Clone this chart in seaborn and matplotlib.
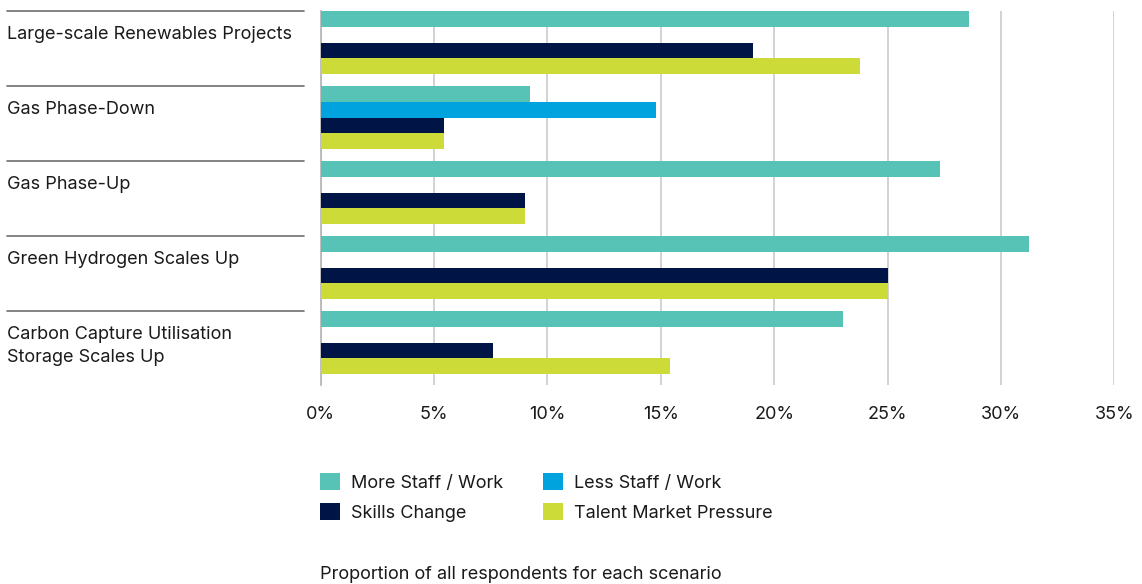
import matplotlib
matplotlib.use("Agg")
import matplotlib.pyplot as plt
from matplotlib.patches import Patch
from matplotlib.lines import Line2D
import pandas as pd
import seaborn as sns

scenarios = [
    "Large-scale Renewables Projects",
    "Gas Phase-Down",
    "Gas Phase-Up",
    "Green Hydrogen Scales Up",
    "Carbon Capture Utilisation\nStorage Scales Up",
]
impacts = ["More Staff / Work", "Less Staff / Work", "Skills Change", "Talent Market Pressure"]
more_staff = [28.6, 9.25, 27.3, 31.25, 23.05]
less_staff = [0.0, 14.8, 0.0, 0.0, 0.0]
skills_change = [19.05, 5.45, 9.0, 25.0, 7.6]
talent_pressure = [23.8, 5.45, 9.0, 25.0, 15.4]
colors = ["#57C3B6", "#00A3DE", "#011446", "#CCDB37"]
x_ticks = [0, 5, 10, 15, 20, 25, 30, 35]
x_tick_labels = [f"{t}%" for t in x_ticks]

sns.set_theme(style="white")
plt.rcParams["font.family"] = ["Inter", "DejaVu Sans"]
plt.rcParams["text.color"] = "#1a1a1a"

series = dict(zip(impacts, [more_staff, less_staff, skills_change, talent_pressure]))
df = pd.DataFrame(
    [(s, imp, v) for imp, vals in series.items() for s, v in zip(scenarios, vals)],
    columns=["scenario", "impact", "value"],
)

W, H = 1142, 584
fig = plt.figure(figsize=(W / 100, H / 100), dpi=100)
ax = fig.add_axes([320.7 / W, 1 - 385.4 / H, 793.6 / W, 374.4 / H])

sns.barplot(
    data=df, x="value", y="scenario", hue="impact", order=scenarios,
    hue_order=impacts, palette=colors, width=0.83, saturation=1,
    orient="h", legend=False, linewidth=0, errorbar=None, ax=ax, zorder=3,
)

ax.set_xlim(0, 35)
ax.set_ylim(4.572, -0.42)
ax.set_xticks(x_ticks)
ax.set_xticklabels(x_tick_labels, fontsize=13)
ax.tick_params(axis="x", length=0, pad=15, colors="#1a1a1a")
ax.set_yticks([])
ax.set_xlabel("")
ax.set_ylabel("")
for sp in ["top", "right", "bottom"]:
    ax.spines[sp].set_visible(False)
ax.spines["left"].set_color("#b3b3b3")
ax.spines["left"].set_linewidth(1.2)
ax.grid(axis="x", color="#cfcfcf", linewidth=1.3, zorder=0)
ax.set_axisbelow(True)

# scenario labels with separator rules to the left of the bars
ytrans = ax.get_yaxis_transform()
for i, name in enumerate(scenarios):
    top = i - 0.415
    ax.add_line(Line2D([-0.3953, -0.021], [top, top], transform=ytrans,
                       color="#6e6e6e", linewidth=1.2, clip_on=False))
    ax.text(-0.3953, top + 0.19, name, transform=ytrans, ha="left", va="top",
            fontsize=13, linespacing=1.5, clip_on=False)

handles = [Patch(facecolor=c, edgecolor="none") for c in colors]
order = [0, 2, 1, 3]
fig.legend(
    [handles[k] for k in order], [impacts[k] for k in order],
    loc="upper left", bbox_to_anchor=(320 / W, 1 - 473 / H), ncol=2,
    frameon=False, fontsize=13, handlelength=1.1, handleheight=1.1,
    handletextpad=0.6, columnspacing=2.25, labelspacing=0.62, borderpad=0,
    borderaxespad=0,
)

fig.text(320 / W, 1 - 579 / H, "Proportion of all respondents for each scenario",
         ha="left", va="baseline", fontsize=13)

fig.savefig("out.png", dpi=100)
